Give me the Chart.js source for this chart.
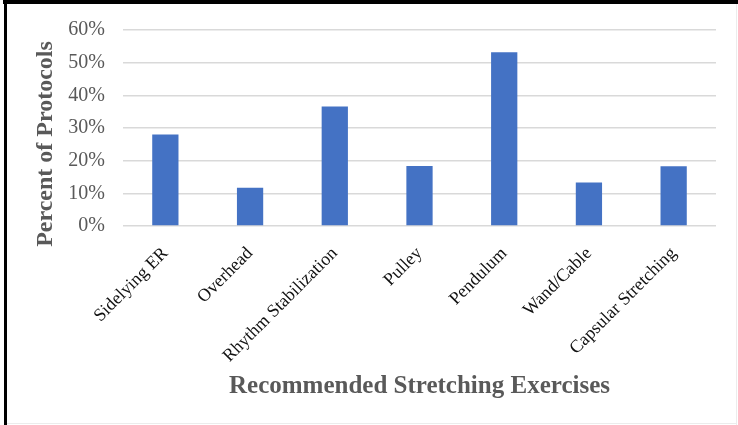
<!DOCTYPE html>
<html>
<head>
<meta charset="utf-8">
<script src="https://cdn.jsdelivr.net/npm/chart.js@4/dist/chart.umd.min.js"></script>
<style>
  html, body { margin: 0; padding: 0; background: #fff; }
  #wrap { width: 738px; height: 425px; position: relative; }
</style>
</head>
<body>
<div id="wrap"><canvas id="c" width="738" height="425"></canvas></div>
<script>
// Exercise categories and share of protocols recommending each (%)
const exercises = ['Sidelying ER', 'Overhead', 'Rhythm Stabilization', 'Pulley', 'Pendulum', 'Wand/Cable', 'Capsular Stretching'];
const percentOfProtocols = [28, 11.7, 36.6, 18.4, 53.2, 13.3, 18.3];
const yTicks = [0, 10, 20, 30, 40, 50, 60];

const xTitle = 'Recommended Stretching Exercises';
const yTitle = 'Percent of Protocols';

const SERIF = "'Liberation Serif', 'Times New Roman', serif";

// Page frame and rotated y-axis title
const framePlugin = {
  id: 'frame',
  beforeDraw(chart) {
    const ctx = chart.ctx;
    ctx.save();
    ctx.fillStyle = '#fff';
    ctx.fillRect(0, 0, chart.width, chart.height);
    ctx.fillStyle = '#000';
    ctx.fillRect(3, 0, chart.width - 3, 4);
    ctx.fillRect(4, 0, 3, chart.height);
    ctx.fillStyle = '#ececec';
    ctx.fillRect(chart.width - 2, 4, 1, chart.height - 4);
    ctx.fillRect(7, chart.height - 2, chart.width - 9, 1);
    ctx.restore();
  },
  afterDraw(chart) {
    const ctx = chart.ctx;
    ctx.save();
    ctx.translate(46, 144);
    ctx.rotate(-Math.PI / 2);
    ctx.font = 'bold 24px ' + SERIF;
    ctx.fillStyle = '#595959';
    ctx.textAlign = 'center';
    ctx.textBaseline = 'middle';
    ctx.fillText(yTitle, 0, 0);
    ctx.restore();
  }
};

new Chart(document.getElementById('c'), {
  type: 'bar',
  data: {
    labels: exercises,
    datasets: [{
      data: percentOfProtocols,
      backgroundColor: '#4472C4',
      borderWidth: 0,
      categoryPercentage: 1,
      barPercentage: 0.31
    }]
  },
  options: {
    responsive: false,
    animation: false,
    devicePixelRatio: 1,
    layout: { padding: { top: 25, right: 22, bottom: 23, left: 32 } },
    plugins: {
      legend: { display: false },
      tooltip: { enabled: false }
    },
    scales: {
      x: {
        grid: { display: false },
        border: { display: false },
        ticks: {
          color: '#111',
          font: { family: SERIF, size: 18 },
          maxRotation: 45,
          minRotation: 45,
          autoSkip: false,
          padding: 9
        },
        title: {
          display: true,
          text: xTitle,
          color: '#595959',
          font: { family: SERIF, size: 25, weight: 'bold' },
          padding: { top: 0, bottom: 0 }
        },
        afterFit(scale) { scale.height = 425 - 23 - 226; }
      },
      y: {
        min: 0,
        max: 60,
        afterBuildTicks(scale) { scale.ticks = yTicks.map(v => ({ value: v })); },
        grid: { color: '#d9d9d9', lineWidth: 1.5, drawTicks: false },
        border: { display: false },
        ticks: {
          color: '#595959',
          font: { family: SERIF, size: 20 },
          padding: 18,
          callback: v => v + '%'
        },
        afterFit(scale) { scale.width = 123 - 32; }
      }
    }
  },
  plugins: [framePlugin]
});
</script>
</body>
</html>
